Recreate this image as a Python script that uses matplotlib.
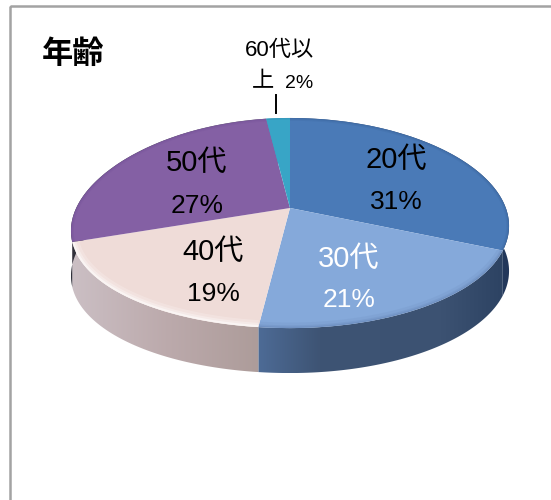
import numpy as np
import matplotlib
matplotlib.use("Agg")
import matplotlib.pyplot as plt
from matplotlib.colors import LinearSegmentedColormap
from matplotlib.patches import Polygon, Rectangle
from matplotlib.transforms import Transform

plt.rcParams['font.family'] = ['Liberation Sans', 'Noto Sans CJK JP', 'DejaVu Sans']

categories = ['20代', '30代', '40代', '50代', '60代以上']
values = [31, 21, 19, 27, 2]
percents = ['31%', '21%', '19%', '27%', '2%']
top_colors = ['#4a7ab7', '#85a9da', '#efdcd8', '#8460a4', '#38a5c6']
side_ramps = [
    ['#3f5f8c', '#22375a'],
    ['#4d6b96', '#3e5474', '#3d5373', '#3c5272', '#2d4363'],
    ['#cbbfc4', '#bcaaac', '#ad9c9a'],
    ['#6a6a70', '#30303a'],
    ['#38a5c6', '#38a5c6'],
]
text_colors = ['black', 'white', 'black', 'black']
label_pos = [(396, 160, 202), (349, 259, 300), (213, 252, 294), (197, 163, 206)]

APEX_X, APEX_Y = 290.0, 208.0
RX, RY, K = 216.8, 102.9, 1 / 7
SAG_LEFT, SAG_RIGHT = 8.0, 3.0
DEPTH = 45.0


def project(X, Y, drop=0.0):
    den = 1 + K * Y
    sag = np.where(X < 0, SAG_LEFT, SAG_RIGHT) * X ** 2
    return APEX_X + RX * X / den, APEX_Y - RY * Y / den + sag + drop


class Perspective(Transform):
    input_dims = output_dims = 2
    has_inverse = False
    is_separable = False

    def transform_non_affine(self, values):
        values = np.asarray(values)
        return np.column_stack(project(values[:, 0], values[:, 1]))


def rim(a0, a1, drop=0.0, n=120):
    th = np.deg2rad(np.linspace(a0, a1, n))
    return np.column_stack(project(np.sin(th), np.cos(th), drop))


fig = plt.figure(figsize=(5.51, 5.00), dpi=100, facecolor='white')
ax = fig.add_axes([0, 0, 1, 1])
wedges, _ = ax.pie(values, startangle=90, counterclock=False, frame=False)
ax.set_aspect('auto')
ax.set_xlim(0, 551)
ax.set_ylim(500, 0)
ax.axis('off')

# outer frame
ax.add_patch(Rectangle((10, 6), 700, 700, fill=False, ec='#a3a3a3', lw=1.8, zorder=1))

edges = np.cumsum([0] + values) / sum(values) * 360

# side walls
grad = np.linspace(0, 1, 256).reshape(1, -1)
for i, ramp in enumerate(side_ramps):
    a0, a1 = edges[i], edges[i + 1]
    top = rim(a0, a1)
    bottom = rim(a0, a1, DEPTH)
    poly = Polygon(np.vstack([top, bottom[::-1]]), closed=True, fc='none', ec='none',
                   transform=ax.transData)
    ax.add_patch(poly)
    x0, x1 = np.min(top[:, 0]), np.max(top[:, 0])
    y0, y1 = np.min(top[:, 1]), np.max(bottom[:, 1])
    vals = grad[:, ::-1] if i == 3 else grad
    im = ax.imshow(vals, cmap=LinearSegmentedColormap.from_list(f's{i}', ramp),
                   extent=(x0, x1, y1, y0), aspect='auto', zorder=2, interpolation='bilinear')
    im.set_clip_path(poly)
ax.set_xlim(0, 551)
ax.set_ylim(500, 0)

# top surface
persp = Perspective() + ax.transData
for w, c in zip(wedges, top_colors):
    w.set_transform(persp)
    w.set_facecolor(c)
    w.set_edgecolor('none')
    w.set_zorder(3)

# soft rim shading on the top surface
rim_styles = [('#2f5488', [(4, .12), (2, .2)]),
              ('#5f7fb0', [(8, .12), (4, .2), (2, .3)]),
              ('#ffffff', [(10, .2), (6, .3), (3, .5)]),
              ('#6a4a90', [(4, .15), (2, .2)]),
              ('#2f6f9a', [(2, .2)])]
for i, (w, (col, strokes)) in enumerate(zip(wedges, rim_styles)):
    pts = rim(edges[i], edges[i + 1])
    clip = Polygon(np.vstack([[APEX_X, APEX_Y], pts]), closed=True, transform=ax.transData,
                   fc='none', ec='none')
    ax.add_patch(clip)
    for lw, alpha in strokes:
        ln, = ax.plot(pts[:, 0], pts[:, 1], color=col, lw=lw, alpha=alpha, zorder=4,
                      solid_capstyle='butt')
        ln.set_clip_path(clip)

# labels
for cat, pct, col, (x, y1, y2) in zip(categories, percents, text_colors, label_pos):
    ax.text(x, y1, cat, ha='center', va='center', fontsize=21, color=col, zorder=5)
    ax.text(x, y2, pct, ha='center', va='center', fontsize=19, color=col, zorder=5)

ax.text(280, 50, categories[4][:4], ha='center', va='center', fontsize=16, color='black', zorder=5)
ax.text(263, 82, categories[4][4:], ha='center', va='center', fontsize=16, color='black', zorder=5)
ax.text(299, 83, percents[4], ha='center', va='center', fontsize=14, color='black', zorder=5)
ax.plot([275.5, 275.5], [95, 113], color='black', lw=1.4, zorder=5)

ax.text(73, 55, '年齢', ha='center', va='center', fontsize=22.5, fontweight='bold',
        color='black', zorder=5)

fig.savefig('out.png', dpi=100, facecolor='white')
